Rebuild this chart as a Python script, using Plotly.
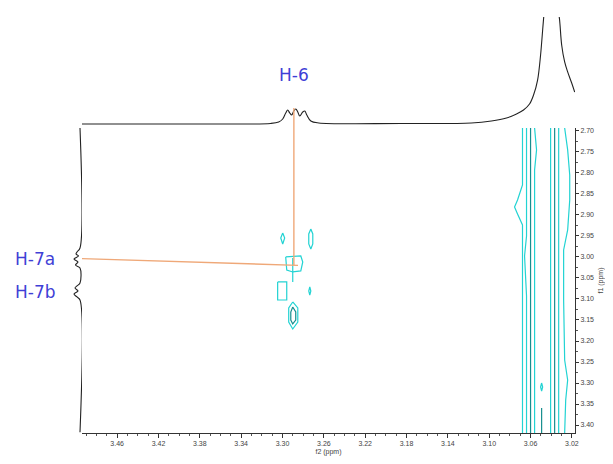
import plotly.graph_objects as go

# ---------------- data (ppm / relative intensity) ----------------
x_range = [3.494, 3.017]          # f2 (reversed)
y_range = [3.419, 2.693]          # f1 (reversed, top = 2.693)

x_tickvals = [3.46, 3.42, 3.38, 3.34, 3.30, 3.26, 3.22, 3.18, 3.14, 3.10, 3.06, 3.02]
y_tickvals = [2.70, 2.75, 2.80, 2.85, 2.90, 2.95, 3.00, 3.05, 3.10, 3.15, 3.20, 3.25, 3.30, 3.35, 3.40]

# top 1D projection (f2)
top_ppm = [3.494, 3.3794, 3.3115, 3.3037, 3.2998, 3.2969, 3.2950, 3.2930, 3.2911, 3.2891,
           3.2872, 3.2852, 3.2833, 3.2804, 3.2784, 3.2765, 3.2726, 3.2649, 3.1852, 3.1173,
           3.0979, 3.0833, 3.0736, 3.0668, 3.0610, 3.0571, 3.0532, 3.0503, 3.0483, 3.0464,
           3.0435, 3.0406, 3.0367, 3.0338, 3.0319, 3.0299, 3.0270, 3.0241, 3.0202, 3.0173]
top_int = [0.036, 0.036, 0.041, 0.054, 0.081, 0.135, 0.162, 0.135, 0.117, 0.153,
           0.171, 0.144, 0.108, 0.144, 0.153, 0.117, 0.063, 0.045, 0.041, 0.045,
           0.063, 0.090, 0.126, 0.162, 0.216, 0.297, 0.432, 0.658, 0.883, 1.108,
           1.6, 2.0, 1.6, 1.108, 0.973, 0.748, 0.595, 0.505, 0.405, 0.324]

# left 1D projection (f1)
left_ppm = [2.693, 2.9786, 2.9881, 2.9929, 2.9976, 3.0048, 3.0119, 3.0190, 3.0262,
            3.0619, 3.0690, 3.0738, 3.0810, 3.0881, 3.0952, 3.1024, 3.417]
left_int = [0.077, 0.077, 0.192, 0.231, 0.135, 0.308, 0.154, 0.250, 0.077,
            0.077, 0.192, 0.269, 0.154, 0.308, 0.192, 0.077, 0.077]

# assignments
H6_ppm = 3.289
H7a_ppm = 3.004
H7b_ppm = 3.083
cross_f1 = 3.020
H6_label_int = 0.18

# cross-peak contours around H-6 / H-7
c1_x = [3.2969, 3.2823, 3.2804, 3.2823, 3.2901, 3.2959, 3.2969]
c1_y = [3.000, 2.9976, 3.0119, 3.0333, 3.0357, 3.0310, 3.000]
c1b_x = [3.2901, 3.2901]
c1b_y = [3.0024, 3.0595]
c2_x = [3.2998, 3.2979, 3.2998, 3.3017, 3.2998]
c2_y = [2.9429, 2.9548, 2.9690, 2.9548, 2.9429]
c3_x = [3.2726, 3.2707, 3.2707, 3.2726, 3.2746, 3.2746, 3.2726]
c3_y = [2.9333, 2.9452, 2.9690, 2.9810, 2.9690, 2.9452, 2.9333]
c4_x = [3.3047, 3.2959, 3.2959, 3.3047, 3.3047]
c4_y = [3.0595, 3.0595, 3.1024, 3.1024, 3.0595]
c5_x = [3.2736, 3.2726, 3.2736, 3.2746, 3.2736]
c5_y = [3.0714, 3.0810, 3.0905, 3.0810, 3.0714]
c6_x = [3.2901, 3.2852, 3.2852, 3.2901, 3.2940, 3.2940, 3.2901]
c6_y = [3.1071, 3.1214, 3.1548, 3.1714, 3.1548, 3.1214, 3.1071]
c6i_x = [3.2901, 3.2872, 3.2872, 3.2901, 3.2920, 3.2920, 3.2901]
c6i_y = [3.1190, 3.1310, 3.1500, 3.1595, 3.1500, 3.1310, 3.1190]

# t1-noise streaks on the right
s1_x = [3.0678, 3.0678, 3.0726, 3.0755, 3.0726, 3.0678, 3.0678]
s1_y = [2.693, 2.8286, 2.8643, 2.8810, 2.8976, 2.9238, 3.419]
s2_x = [3.0639, 3.0639, 3.0658, 3.0639, 3.0639]
s2_y = [2.693, 2.9500, 2.9976, 3.0929, 3.419]
s3_x = [3.0600, 3.0600]
s3_y = [2.693, 3.419]
s4_x = [3.0561, 3.0542, 3.0561, 3.0561]
s4_y = [2.693, 2.7452, 2.7929, 3.419]
s5_x = [3.0493, 3.0493]
s5_y = [3.3595, 3.419]
s5c_x = [3.0493, 3.0483, 3.0493, 3.0503, 3.0493]
s5c_y = [3.3000, 3.3095, 3.3190, 3.3095, 3.3000]
s6_x = [3.0406, 3.0406]
s6_y = [2.693, 3.419]
s7_x = [3.0367, 3.0367]
s7_y = [2.693, 3.419]
s8_x = [3.0328, 3.0328]
s8_y = [2.693, 3.419]
s9_x = [3.0270, 3.0241, 3.0221, 3.0221, 3.0241, 3.0280, 3.0280, 3.0270, 3.0241, 3.0260, 3.0270]
s9_y = [2.693, 2.7452, 2.8048, 2.8643, 2.9357, 2.9833, 3.1024, 3.2452, 3.2929, 3.3405, 3.419]

CYAN = "#22d3d3"
TEAL = "#178e8e"
ORANGE = "#efa878"
BLUE = "#3f3fd6"

# page has an 8px body margin -> figure of 605x456 placed at (8, 8)
W, H, OFF = 605, 456, 8


def fx(px):
    return (px - OFF) / W


def fy(py):
    return 1 - (py - OFF) / H


fig = go.Figure()

contours = [
    (c1_x, c1_y, CYAN), (c1b_x, c1b_y, CYAN), (c2_x, c2_y, CYAN), (c3_x, c3_y, CYAN),
    (c4_x, c4_y, CYAN), (c5_x, c5_y, CYAN), (c6_x, c6_y, CYAN), (c6i_x, c6i_y, TEAL),
    (s1_x, s1_y, CYAN), (s2_x, s2_y, CYAN), (s3_x, s3_y, TEAL), (s4_x, s4_y, CYAN),
    (s5_x, s5_y, TEAL), (s5c_x, s5c_y, CYAN), (s6_x, s6_y, CYAN), (s7_x, s7_y, TEAL),
    (s8_x, s8_y, CYAN), (s9_x, s9_y, CYAN),
]
for cx, cy, col in contours:
    fig.add_trace(go.Scatter(x=cx, y=cy, mode="lines", line=dict(color=col, width=1.2),
                             xaxis="x", yaxis="y", showlegend=False, hoverinfo="skip"))

fig.add_trace(go.Scatter(x=top_ppm, y=top_int, mode="lines", line=dict(color="#222", width=1.1, shape="spline"),
                         xaxis="x2", yaxis="y2", showlegend=False))
fig.add_trace(go.Scatter(x=left_int, y=left_ppm, mode="lines", line=dict(color="#222", width=1.1, shape="spline"),
                         xaxis="x3", yaxis="y3", showlegend=False))

# guide lines
fig.add_shape(type="line", xref="x2", yref="y2", x0=H6_ppm, x1=H6_ppm, y0=0, y1=H6_label_int,
              line=dict(color=ORANGE, width=1.4))
fig.add_shape(type="line", xref="x", yref="y", x0=H6_ppm, x1=H6_ppm, y0=y_range[1], y1=cross_f1,
              line=dict(color=ORANGE, width=1.4))
fig.add_shape(type="line", xref="x", yref="y", x0=x_range[0], x1=H6_ppm - 0.004, y0=H7a_ppm, y1=cross_f1,
              line=dict(color=ORANGE, width=1.4))

xd = [fx(82), fx(575)]
yd = [fy(433), fy(128)]
label_font = dict(family="DejaVu Sans, Verdana, sans-serif", size=17, color=BLUE)
fig.update_layout(
    width=W, height=H, margin=dict(l=0, r=0, t=0, b=0, autoexpand=False),
    paper_bgcolor="white", plot_bgcolor="rgba(0,0,0,0)",
    font=dict(family="Liberation Sans, Arial, sans-serif"),
    xaxis=dict(domain=xd, range=x_range, tickvals=x_tickvals, tickformat=".2f", automargin=False,
               showline=True, linecolor="#333", linewidth=1, ticks="outside", ticklen=4,
               tickcolor="#333", tickfont=dict(size=7, color="#444"),
               minor=dict(dtick=0.01, ticks="outside", ticklen=2, tickcolor="#555"),
               showgrid=False, zeroline=False, anchor="y",
               title=dict(text="f2 (ppm)", font=dict(size=7, color="#444"), standoff=2)),
    yaxis=dict(domain=yd, range=y_range, tickvals=y_tickvals, tickformat=".2f", side="right",
               automargin=False,
               showline=True, linecolor="#333", linewidth=1, ticks="outside", ticklen=3,
               tickcolor="#333", tickfont=dict(size=7, color="#444"),
               minor=dict(dtick=0.025, ticks="outside", ticklen=2, tickcolor="#555"),
               showgrid=False, zeroline=False, anchor="x",
               title=dict(text="f1 (ppm)", font=dict(size=7, color="#444"), standoff=4)),
    xaxis2=dict(domain=xd, range=x_range, visible=False, anchor="y2", automargin=False),
    yaxis2=dict(domain=[fy(128), fy(17)], range=[0, 1], visible=False, anchor="x2", automargin=False),
    xaxis3=dict(domain=[fx(56), fx(82)], range=[1, 0], visible=False, anchor="y3", automargin=False),
    yaxis3=dict(domain=yd, range=y_range, visible=False, anchor="x3", automargin=False),
    annotations=[
        dict(text="H-6", xref="x", yref="paper", x=H6_ppm, y=fy(75), showarrow=False,
             xanchor="center", yanchor="middle", font=label_font),
        dict(text="H-7a", xref="paper", yref="y", x=fx(35), y=H7a_ppm, showarrow=False,
             xanchor="center", yanchor="middle", font=label_font),
        dict(text="H-7b", xref="paper", yref="y", x=fx(35), y=H7b_ppm, showarrow=False,
             xanchor="center", yanchor="middle", font=label_font),
    ],
)

fig.write_html("out.html")
